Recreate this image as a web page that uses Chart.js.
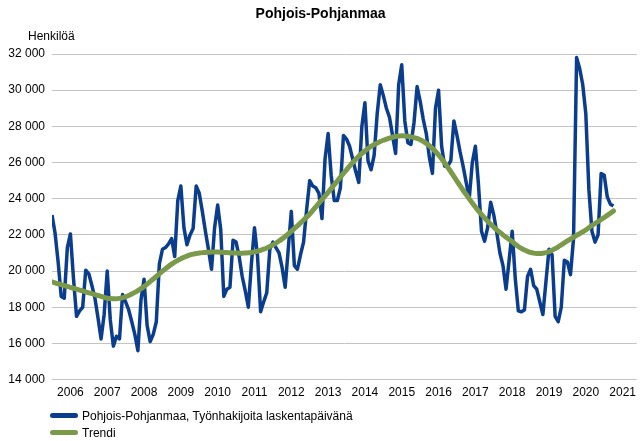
<!DOCTYPE html>
<html lang="fi">
<head>
<meta charset="utf-8">
<title>Pohjois-Pohjanmaa</title>
<script src="https://cdn.jsdelivr.net/npm/chart.js@4.4.1/dist/chart.umd.min.js"></script>
<style>
    body { margin: 0; background: #fff; }
    #wrap { position: relative; width: 642px; height: 441px; }
    #legend { position: absolute; left: 50px; top: 408px; font: 12px "Liberation Sans", Arial, sans-serif; color: #000; }
    .item { height: 17px; line-height: 17px; white-space: nowrap; }
    .swatch { display: inline-block; width: 28px; height: 5px; border-radius: 3px; vertical-align: middle; margin-right: 4px; position: relative; top: -1px; }
</style>
</head>
<body>
<div id="wrap">
    <canvas id="chart" width="642" height="441"></canvas>
    <div id="legend"></div>
</div>
<script>
// kuukausittain, tammikuu 2006 - huhtikuu 2021
const jobSeekers = [
    23100, 22100, 20500, 18600, 18500, 21300, 22050, 19600, 17500, 17800, 18000, 20050,
    19850, 19200, 18500, 17400, 16250, 17600, 20000, 17300, 15850, 16400, 16250, 18700,
    18300, 17850, 17200, 16500, 15600, 18400, 19550, 17000, 16100, 16500, 17200, 20400,
    21200, 21300, 21500, 21800, 20800, 23900, 24700, 22400, 21450, 22000, 22350, 24700,
    24300, 23300, 22200, 21200, 20100, 22400, 23650, 22300, 18600, 19000, 19100, 21700,
    21600, 20800, 19700, 18900, 18000, 20400, 22400, 20800, 17750, 18300, 18800, 21200,
    21600, 21300, 21000, 20200, 19100, 21200, 23300, 20300, 20100, 20900, 21600, 23400,
    25000, 24700, 24600, 24300, 22900, 26200, 27600, 25300, 23900, 23900, 24600, 27500,
    27300, 26900, 26200, 25500, 24900, 28000, 29300, 26100, 25600, 26400, 28700, 30300,
    29700, 29000, 28500, 27500, 26500, 30300, 31400, 28300, 27100, 27000, 28200, 30200,
    29400, 28400, 27600, 26300, 25400, 29000, 30000, 26900, 25800, 25800, 26100, 28300,
    27500, 26600, 25800, 24900, 24000, 26000, 26900, 24800, 22200, 21650, 22400, 23800,
    23100, 22100, 21000, 20300, 19000, 20600, 22200, 19600, 17800, 17750, 17850, 19700,
    20100, 19200, 19000, 18300, 17600, 19400, 21200, 20900, 17500, 17200, 18000, 20600,
    20500, 19800, 21800, 31800, 31200, 30300, 28700, 24500, 22200, 21600, 22000, 25400,
    25300, 24100, 23700, 23600
];

const trend = [
    19400, 19350, 19300, 19250, 19200, 19150, 19100, 19050, 19000, 18950, 18900, 18850,
    18800, 18750, 18700, 18650, 18600, 18550, 18500, 18480, 18470, 18470, 18490, 18530,
    18580, 18650, 18730, 18820, 18920, 19030, 19150, 19280, 19420, 19560, 19700, 19850,
    20000, 20130, 20260, 20380, 20490, 20590, 20680, 20760, 20830, 20890, 20940, 20970,
    21000, 21020, 21030, 21040, 21050, 21050, 21050, 21040, 21030, 21020, 21010, 21000,
    21000, 20990, 20990, 21000, 21010, 21030, 21060, 21100, 21150, 21210, 21280, 21360,
    21450, 21550, 21660, 21780, 21910, 22050, 22200, 22350, 22500, 22660, 22820, 22980,
    23150, 23350, 23550, 23750, 23950, 24150, 24350, 24560, 24770, 24980, 25190, 25400,
    25600, 25800, 26000, 26180, 26350, 26500, 26640, 26770, 26890, 26990, 27080, 27160,
    27230, 27290, 27350, 27400, 27440, 27470, 27480, 27470, 27450, 27420, 27380, 27330,
    27260, 27170, 27060, 26930, 26780, 26610, 26420, 26210, 25980, 25740, 25490, 25230,
    24970, 24720, 24470, 24230, 23990, 23760, 23540, 23330, 23130, 22940, 22760, 22590,
    22430, 22280, 22140, 22000, 21870, 21750, 21630, 21480, 21360, 21250, 21160, 21090,
    21030, 20990, 20970, 20970, 20990, 21020, 21070, 21150, 21240, 21340, 21450, 21560,
    21670, 21770, 21870, 21970, 22070, 22170, 22270, 22400, 22520, 22630, 22740, 22850,
    22960, 23080, 23200, 23320
];

const years = ["2006", "2007", "2008", "2009", "2010", "2011", "2012", "2013",
    "2014", "2015", "2016", "2017", "2018", "2019", "2020", "2021"];

const seriesNames = ["Pohjois-Pohjanmaa, Työnhakijoita laskentapäivänä", "Trendi"];
const seriesColors = ["#0b3d8e", "#7a9a4a"];

const FONT = "'Liberation Sans', Arial, sans-serif";

function thousands(v) {
    return String(v).replace(/\B(?=(\d{3})+(?!\d))/g, " ");
}

const unitLabel = {
    id: "unitLabel",
    afterDraw(chart) {
        const ctx = chart.ctx;
        ctx.save();
        ctx.font = "12px " + FONT;
        ctx.fillStyle = "#000";
        ctx.textBaseline = "middle";
        ctx.fillText("Henkilöä", 28, 37);
        ctx.restore();
    },
};

const ctx = document.getElementById("chart").getContext("2d");
const chart = new Chart(ctx, {
    type: "line",
    data: {
        datasets: [
            {
                label: seriesNames[0],
                data: jobSeekers.map((v, i) => ({ x: i, y: v })),
                borderColor: seriesColors[0],
                borderWidth: 3.5,
                borderJoinStyle: "round",
                pointRadius: 0,
                fill: false,
                tension: 0,
                order: 2,
            },
            {
                label: seriesNames[1],
                data: trend.map((v, i) => ({ x: i, y: v })),
                borderColor: seriesColors[1],
                borderWidth: 5,
                borderCapStyle: "round",
                pointRadius: 0,
                fill: false,
                tension: 0.3,
                order: 1,
            },
        ],
    },
    options: {
        responsive: false,
        animation: false,
        layout: { padding: { left: 0, right: 1, top: 0, bottom: 35 } },
        plugins: {
            legend: { display: false },
            tooltip: { enabled: false },
            title: {
                display: true,
                text: "Pohjois-Pohjanmaa",
                color: "#000",
                font: { family: FONT, size: 14, weight: "bold" },
                padding: { top: 6, bottom: 31.2 },
            },
        },
        scales: {
            x: {
                type: "linear",
                min: 0,
                max: 190.6,
                grid: { display: false, drawTicks: false },
                border: { display: false },
                afterBuildTicks: (scale) => {
                    scale.ticks = years.map((y, i) => ({ value: 6 + 12 * i }));
                },
                ticks: {
                    autoSkip: false,
                    maxRotation: 0,
                    padding: 6,
                    color: "#000",
                    font: { family: FONT, size: 12 },
                    callback: (v) => years[Math.round((v - 6) / 12)],
                },
            },
            y: {
                min: 14000,
                max: 32000,
                afterFit: (scale) => {
                    scale.width = 52;
                },
                grid: { color: "#c4c4c4", lineWidth: 1, drawTicks: false },
                border: { display: false },
                ticks: {
                    stepSize: 2000,
                    padding: 7,
                    color: "#000",
                    font: { family: FONT, size: 12 },
                    callback: (v) => thousands(v),
                },
            },
        },
    },
    plugins: [unitLabel],
});

// selite kahdelle riville
const legend = document.getElementById("legend");
chart.data.datasets.forEach((ds) => {
    const row = document.createElement("div");
    row.className = "item";
    const sw = document.createElement("span");
    sw.className = "swatch";
    sw.style.background = ds.borderColor;
    row.appendChild(sw);
    row.appendChild(document.createTextNode(ds.label));
    legend.appendChild(row);
});
</script>
</body>
</html>
